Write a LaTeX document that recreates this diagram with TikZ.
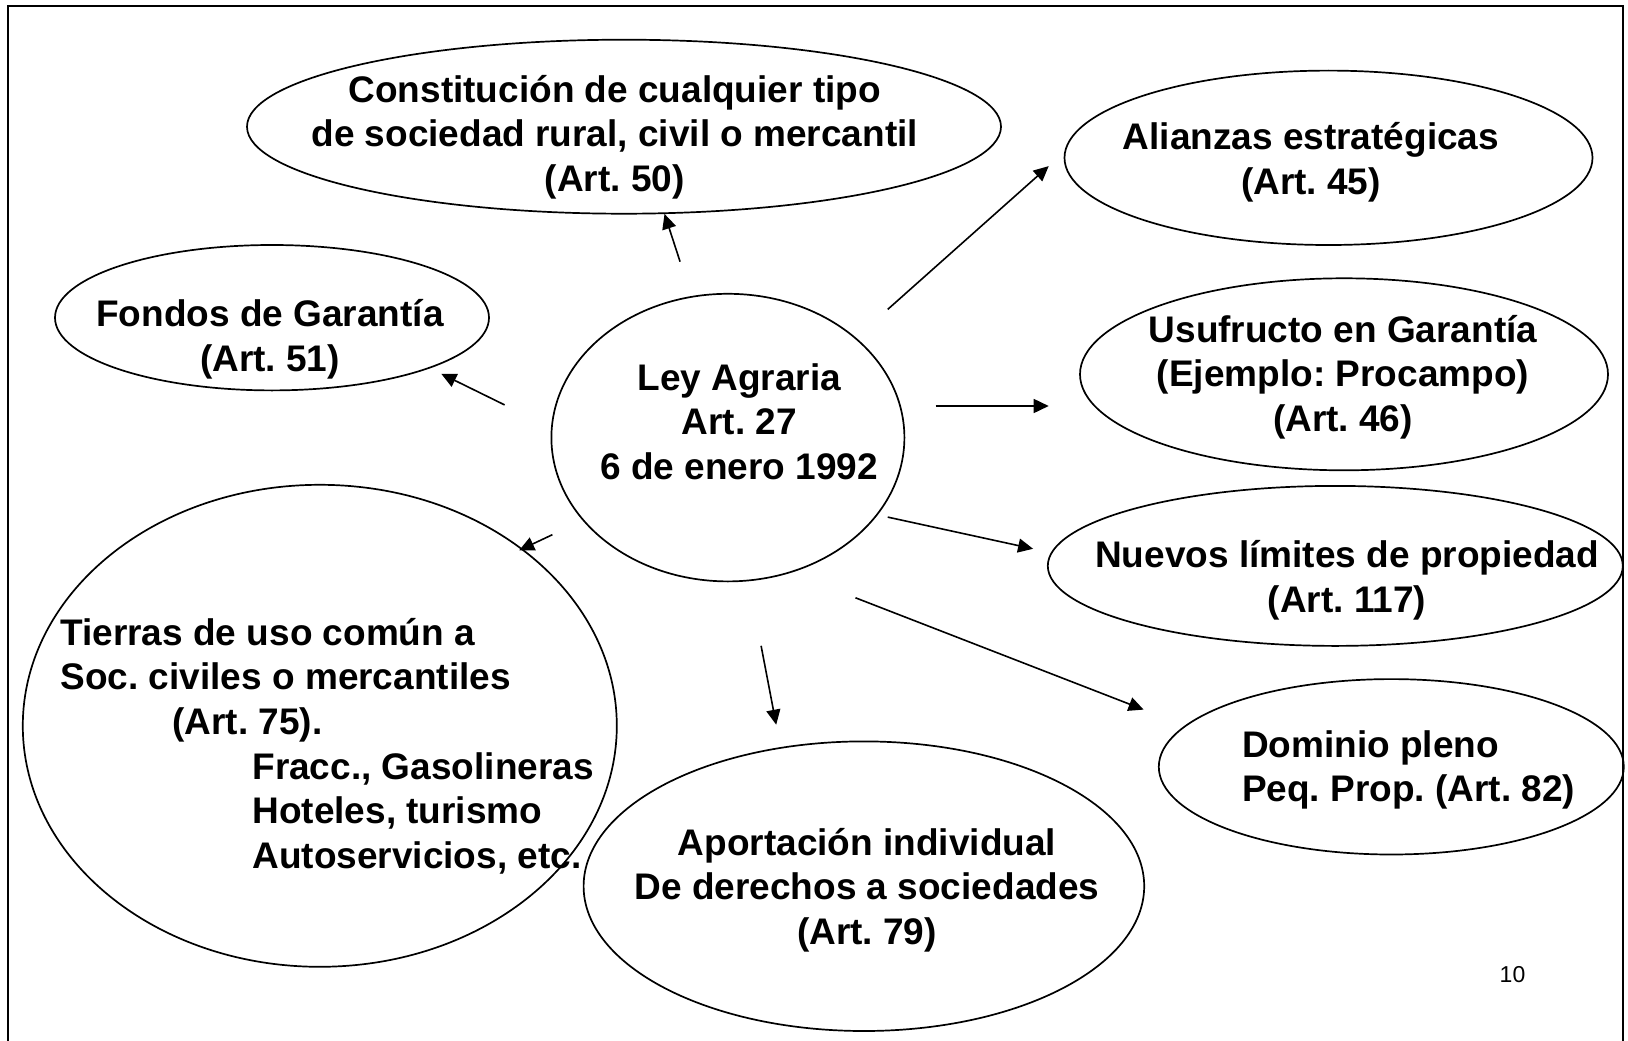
\documentclass[tikz,border=0pt]{standalone}
\usepackage{fontspec}
\setmainfont{Liberation Sans}
\usetikzlibrary{shapes.geometric,arrows.meta}
\frenchspacing
\begin{document}
\begin{tikzpicture}[x=1pt,y=-1pt,
  bub/.style={draw, ellipse, line width=1.7pt, inner sep=0pt},
  lbl/.style={font=\frenchspacing\bfseries\fontsize{37}{44.6}\selectfont, align=center, inner sep=0pt},
  lbll/.style={font=\frenchspacing\bfseries\fontsize{37}{44.6}\selectfont, align=left, inner sep=0pt, anchor=west},
  arr/.style={-{Triangle[length=15pt,width=14pt]}, line width=1.6pt},
  frame/.style={line width=2.4pt}]
\useasboundingbox (0,0) rectangle (1628,1041);
% frame (bottom edge outside the picture)
\coordinate (fbl) at (8,1041);
\coordinate (ftl) at (8,6);
\coordinate (ftr) at (1623,6);
\coordinate (fbr) at (1623,1041);
\draw[frame] (fbl) -- (ftl) -- (ftr) -- (fbr);

% ellipses
\node[bub, minimum width=754pt, minimum height=174pt] (const) at (624,126.7) {};
\node[bub, minimum width=528pt, minimum height=174.4pt] (ali) at (1328.5,157.8) {};
\node[bub, minimum width=434pt, minimum height=145.4pt] (fon) at (272,317.7) {};
\node[bub, minimum width=353pt, minimum height=287.6pt] (ley) at (727.9,437.6) {};
\node[bub, minimum width=528pt, minimum height=192pt] (usu) at (1344,374.3) {};
\node[bub, minimum width=575pt, minimum height=160pt] (nue) at (1335.3,565.9) {};
\node[bub, minimum width=594pt, minimum height=482pt] (tie) at (319.8,725.8) {};
\node[bub, minimum width=465pt, minimum height=175.4pt] (dom) at (1391.3,766.8) {};
\node[bub, minimum width=560.6pt, minimum height=289.6pt] (apo) at (863.9,886.2) {};

% texts
\node[lbl] (constT) at (614.7,137) {Constitución de cualquier tipo\\de sociedad rural, civil o mercantil\\(Art. 50)};
\node[lbl] (aliT) at (1310.9,162) {Alianzas estratégicas\\(Art. 45)};
\node[lbl] (fonT) at (270,339) {Fondos de Garantía\\(Art. 51)};
\node[lbl] (leyT) at (739.3,421.5) {Ley Agraria\\Art. 27\\6 de enero 1992};
\node[lbl] (usuT) at (1343,377) {Usufructo en Garantía\\(Ejemplo: Procampo)\\(Art. 46)};
\node[lbl] (nueT) at (1347,580) {Nuevos límites de propiedad\\(Art. 117)};
\node[lbll] (tieT) at (60.2,746) {Tierras de uso común a\\Soc. civiles o mercantiles\\\hspace*{112pt}(Art. 75).\\\hspace*{192pt}Fracc., Gasolineras\\\hspace*{192pt}Hoteles, turismo\\\hspace*{192pt}Autoservicios, etc.};
\node[lbll] (domT) at (1241.8,770) {Dominio pleno\\Peq. Prop. (Art. 82)};
\node[lbl] (apoT) at (867,890) {Aportación individual\\De derechos a sociedades\\(Art. 79)};
\node[font=\fontsize{23}{27}\selectfont, inner sep=0pt] (pg) at (1512.5,975) {10};

% arrow ends
\coordinate (a1s) at (680.1,261.7);  \coordinate (a1e) at (664.5,213.9);
\coordinate (a2s) at (504.6,404.9);  \coordinate (a2e) at (441.3,373.8);
\coordinate (a3s) at (887.7,309.4);  \coordinate (a3e) at (1048.7,166.1);
\coordinate (a4s) at (935.5,406);    \coordinate (a4e) at (1048.7,406);
\coordinate (a5s) at (887.7,517.1);  \coordinate (a5e) at (1033.1,548.8);
\coordinate (a6s) at (552.4,534.7);  \coordinate (a6e) at (519.2,550.3);
\coordinate (a7s) at (761.1,645.8);  \coordinate (a7e) at (776.2,724.7);
\coordinate (a8s) at (855.5,597.8);  \coordinate (a8e) at (1143.6,709.6);

\draw[arr] (a1s) -- (a1e);
\draw[arr] (a2s) -- (a2e);
\draw[arr] (a3s) -- (a3e);
\draw[arr] (a4s) -- (a4e);
\draw[arr] (a5s) -- (a5e);
\draw[arr] (a6s) -- (a6e);
\draw[arr] (a7s) -- (a7e);
\draw[arr] (a8s) -- (a8e);
\end{tikzpicture}
\end{document}
